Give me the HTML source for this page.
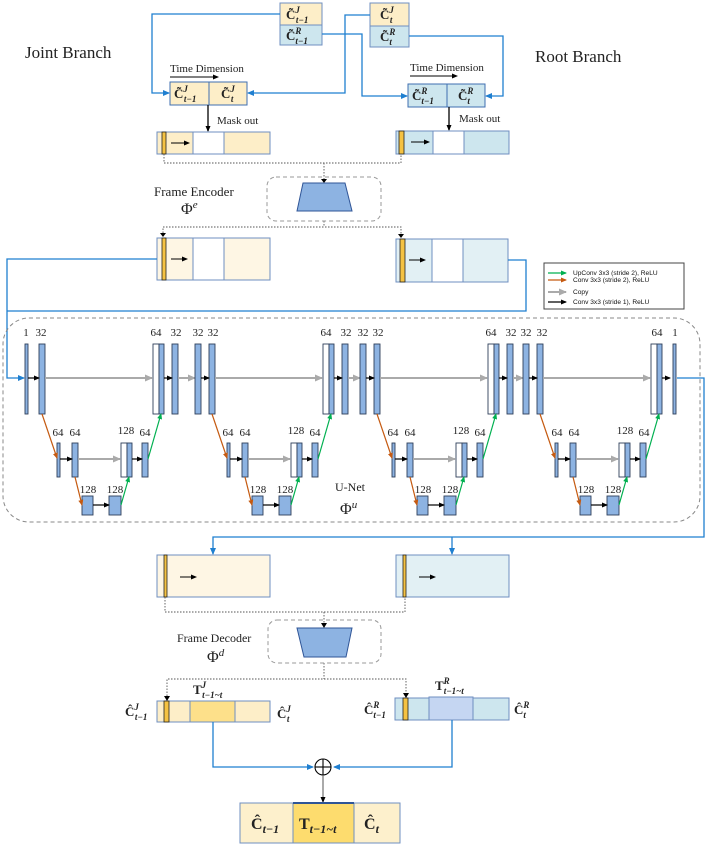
<!DOCTYPE html>
<html><head><meta charset="utf-8"><style>
html,body{margin:0;padding:0;background:#fff;}
svg{display:block;}
text{font-family:"Liberation Serif",serif;fill:#222;}
.m{font-family:"Liberation Serif",serif;font-weight:bold;}
.s{font-family:"Liberation Sans",sans-serif;font-size:6.6px;fill:#111;}
</style></head><body>
<svg id="sv" width="706" height="845" viewBox="0 0 706 845" xmlns="http://www.w3.org/2000/svg">
<defs>
<marker id="ak" markerWidth="6" markerHeight="6" refX="5" refY="3" orient="auto" markerUnits="userSpaceOnUse"><path d="M0,0.5 L6,3 L0,5.5z" fill="#000"/></marker>
<marker id="ab" markerWidth="7" markerHeight="7" refX="6" refY="3.5" orient="auto" markerUnits="userSpaceOnUse"><path d="M0,0.5 L7,3.5 L0,6.5z" fill="#1f7fd0"/></marker>
<marker id="ag" markerWidth="8" markerHeight="8" refX="7" refY="4" orient="auto" markerUnits="userSpaceOnUse"><path d="M0,0.5 L8,4 L0,7.5z" fill="#aaa"/></marker>
<marker id="ao" markerWidth="6" markerHeight="6" refX="5" refY="3" orient="auto" markerUnits="userSpaceOnUse"><path d="M0,0.5 L6,3 L0,5.5z" fill="#c55a11"/></marker>
<marker id="agr" markerWidth="6" markerHeight="6" refX="5" refY="3" orient="auto" markerUnits="userSpaceOnUse"><path d="M0,0.5 L6,3 L0,5.5z" fill="#00b050"/></marker>
</defs>

<!-- titles -->
<text x="25" y="58" font-size="17">Joint Branch</text>
<text x="535" y="62" font-size="17">Root Branch</text>

<!-- top input boxes -->
<rect x="280" y="3" width="42" height="22" fill="#fdeec8" stroke="#6f8fc0"/>
<rect x="280" y="25" width="42" height="20" fill="#cde6ee" stroke="#6f8fc0"/>
<rect x="370" y="3" width="39" height="23" fill="#fdeec8" stroke="#6f8fc0"/>
<rect x="370" y="26" width="39" height="21" fill="#cde6ee" stroke="#6f8fc0"/>
<text x="286" y="19" font-size="13" class="m">C̃<tspan font-size="9" font-style="italic" dy="-6">J</tspan><tspan font-size="9" font-style="italic" dx="-4" dy="10">t−1</tspan></text>
<text x="286" y="40" font-size="13" class="m">C̃<tspan font-size="9" font-style="italic" dy="-6">R</tspan><tspan font-size="9" font-style="italic" dx="-6" dy="10">t−1</tspan></text>
<text x="380" y="19" font-size="13" class="m">C̃<tspan font-size="9" font-style="italic" dy="-6">J</tspan><tspan font-size="9" font-style="italic" dx="-4" dy="10">t</tspan></text>
<text x="380" y="41" font-size="13" class="m">C̃<tspan font-size="9" font-style="italic" dy="-6">R</tspan><tspan font-size="9" font-style="italic" dx="-6" dy="10">t</tspan></text>

<g fill="none" stroke="#1f7fd0" stroke-width="1.3">
<polyline points="280,14 152,14 152,93 169,93" marker-end="url(#ab)"/>
<polyline points="370,15 345,15 345,93 248,93" marker-end="url(#ab)"/>
<polyline points="322,34 362,34 362,96 407,96" marker-end="url(#ab)"/>
<polyline points="409,36 503,36 503,96 486,96" marker-end="url(#ab)"/>
</g>

<!-- time dimension -->
<text x="170" y="72" font-size="11">Time  Dimension</text>
<line x1="170" y1="77" x2="218" y2="77" stroke="#000" marker-end="url(#ak)"/>
<text x="410" y="71" font-size="11">Time  Dimension</text>
<line x1="410" y1="76" x2="457" y2="76" stroke="#000" marker-end="url(#ak)"/>

<rect x="170" y="82" width="39" height="23" fill="#fdeec8" stroke="#3f6fb0"/>
<rect x="209" y="82" width="38" height="23" fill="#fdeec8" stroke="#3f6fb0"/>
<rect x="408" y="84" width="39" height="23" fill="#cde6ee" stroke="#3f6fb0"/>
<rect x="447" y="84" width="38" height="23" fill="#cde6ee" stroke="#3f6fb0"/>
<text x="174" y="98" font-size="13" class="m">C̃<tspan font-size="9" font-style="italic" dy="-6">J</tspan><tspan font-size="9" font-style="italic" dx="-4" dy="10">t−1</tspan></text>
<text x="221" y="98" font-size="13" class="m">C̃<tspan font-size="9" font-style="italic" dy="-6">J</tspan><tspan font-size="9" font-style="italic" dx="-4" dy="10">t</tspan></text>
<text x="412" y="100" font-size="13" class="m">C̃<tspan font-size="9" font-style="italic" dy="-6">R</tspan><tspan font-size="9" font-style="italic" dx="-6" dy="10">t−1</tspan></text>
<text x="458" y="100" font-size="13" class="m">C̃<tspan font-size="9" font-style="italic" dy="-6">R</tspan><tspan font-size="9" font-style="italic" dx="-6" dy="10">t</tspan></text>

<line x1="208" y1="105" x2="208" y2="131" stroke="#000" stroke-width="1.3" marker-end="url(#ak)"/>
<text x="217" y="124" font-size="11">Mask out</text>
<line x1="449" y1="107" x2="449" y2="130" stroke="#000" stroke-width="1.3" marker-end="url(#ak)"/>
<text x="459" y="122" font-size="11">Mask out</text>

<!-- masked boxes -->
<rect x="157" y="132" width="113" height="22" fill="#fdeec8" stroke="#6f8fc0"/>
<rect x="193" y="132" width="31" height="22" fill="#fff" stroke="#6f8fc0"/>
<rect x="162" y="132" width="4" height="22" fill="#f5c242" stroke="#222" stroke-width="0.8"/>
<line x1="171" y1="143" x2="189" y2="143" stroke="#000" marker-end="url(#ak)"/>
<rect x="396" y="131" width="113" height="23" fill="#cde6ee" stroke="#6f8fc0"/>
<rect x="433" y="131" width="31" height="23" fill="#fff" stroke="#6f8fc0"/>
<rect x="399" y="131" width="5" height="23" fill="#f5c242" stroke="#222" stroke-width="0.8"/>
<line x1="411" y1="142" x2="429" y2="142" stroke="#000" marker-end="url(#ak)"/>

<!-- encoder -->
<g fill="none" stroke="#555" stroke-dasharray="1.5,1.5" stroke-width="0.9">
<polyline points="164,154 164,163 401,163 401,154"/>
<line x1="324" y1="163" x2="324" y2="182"/>
<polyline points="324,221 324,227"/>
<polyline points="163,236 163,227 401,227 401,237"/>
</g>
<path d="M321,179 L327,179 L324,183z" fill="#000"/>
<path d="M160,233 L166,233 L163,237z" fill="#000"/>
<path d="M398,234 L404,234 L401,238z" fill="#000"/>
<rect x="267" y="177" width="114" height="44" rx="9" fill="none" stroke="#999" stroke-dasharray="4,3"/>
<path d="M303,183 L345,183 L352,211 L297,211z" fill="#8db3e2" stroke="#2f5597"/>
<text x="154" y="196" font-size="13">Frame Encoder</text>
<text x="181" y="214" font-size="16">Φ<tspan font-size="11" font-style="italic" dy="-6">e</tspan></text>

<!-- encoded boxes -->
<rect x="157" y="238" width="113" height="42" fill="#fef6e4" stroke="#6f8fc0"/>
<rect x="193" y="238" width="31" height="42" fill="#fff" stroke="#6f8fc0"/>
<rect x="162" y="238" width="4" height="42" fill="#f5c242" stroke="#222" stroke-width="0.8"/>
<line x1="171" y1="259" x2="187" y2="259" stroke="#000" marker-end="url(#ak)"/>
<rect x="396" y="239" width="112" height="43" fill="#e2f0f4" stroke="#6f8fc0"/>
<rect x="432" y="239" width="31" height="43" fill="#fff" stroke="#6f8fc0"/>
<rect x="400" y="239" width="5" height="43" fill="#f5c242" stroke="#222" stroke-width="0.8"/>
<line x1="409" y1="260" x2="425" y2="260" stroke="#000" marker-end="url(#ak)"/>

<g fill="none" stroke="#1f7fd0" stroke-width="1.3">
<polyline points="157,259 7,259 7,378 24,378" marker-end="url(#ab)"/>
<polyline points="508,260 526,260 526,311 7,311"/>
</g>

<!-- legend -->
<rect x="544" y="263" width="140" height="46" fill="#fff" stroke="#444"/>
<line x1="548" y1="273" x2="566" y2="273" stroke="#00b050" stroke-width="1.2" marker-end="url(#agr)"/>
<line x1="548" y1="280" x2="566" y2="280" stroke="#c55a11" stroke-width="1.2" marker-end="url(#ao)"/>
<line x1="548" y1="292" x2="566" y2="292" stroke="#aaa" stroke-width="2" marker-end="url(#ag)"/>
<line x1="548" y1="302" x2="566" y2="302" stroke="#000" stroke-width="1.2" marker-end="url(#ak)"/>
<text x="573" y="275" class="s">UpConv 3x3 (stride 2), ReLU</text>
<text x="573" y="282" class="s">Conv 3x3 (stride 2), ReLU</text>
<text x="573" y="294" class="s">Copy</text>
<text x="573" y="304" class="s">Conv 3x3 (stride 1), ReLU</text>

<!-- UNet box -->
<rect x="3" y="318" width="697" height="204" rx="26" fill="none" stroke="#888" stroke-dasharray="4,3"/>
<g id="unet"></g>

<!-- unet labels -->
<g font-size="11" text-anchor="middle">
<text x="26" y="336">1</text><text x="41" y="336">32</text><text x="156" y="336">64</text><text x="176" y="336">32</text>
<text x="198" y="336">32</text><text x="213" y="336">32</text><text x="326" y="336">64</text><text x="346" y="336">32</text>
<text x="363" y="336">32</text><text x="378" y="336">32</text><text x="491" y="336">64</text><text x="511" y="336">32</text>
<text x="526" y="336">32</text><text x="542" y="336">32</text><text x="657" y="336">64</text><text x="675" y="336">1</text>
<text x="58" y="436">64</text><text x="75" y="436">64</text><text x="126" y="434">128</text><text x="145" y="436">64</text>
<text x="228" y="436">64</text><text x="245" y="436">64</text><text x="296" y="434">128</text><text x="315" y="436">64</text>
<text x="393" y="436">64</text><text x="410" y="436">64</text><text x="461" y="434">128</text><text x="480" y="436">64</text>
<text x="557" y="436">64</text><text x="574" y="436">64</text><text x="625" y="434">128</text><text x="644" y="436">64</text>
<text x="88" y="493">128</text><text x="115" y="493">128</text>
<text x="258" y="493">128</text><text x="285" y="493">128</text>
<text x="423" y="493">128</text><text x="450" y="493">128</text>
<text x="586" y="493">128</text><text x="613" y="493">128</text>
</g>
<text x="335" y="491" font-size="12">U-Net</text>
<text x="340" y="514" font-size="16">Φ<tspan font-size="11" font-style="italic" dy="-6">u</tspan></text>

<!-- output path -->
<g fill="none" stroke="#1f7fd0" stroke-width="1.3">
<polyline points="677,378 704,378 704,537 213,537 213,554" marker-end="url(#ab)"/>
<line x1="452" y1="537" x2="452" y2="554" marker-end="url(#ab)"/>
</g>

<!-- decoder input boxes -->
<rect x="157" y="555" width="113" height="42" fill="#fef6e4" stroke="#6f8fc0"/>
<rect x="164" y="555" width="3" height="42" fill="#f5c242" stroke="#222" stroke-width="0.8"/>
<line x1="180" y1="577" x2="196" y2="577" stroke="#000" marker-end="url(#ak)"/>
<rect x="396" y="555" width="113" height="42" fill="#e2f0f4" stroke="#6f8fc0"/>
<rect x="403" y="555" width="3" height="42" fill="#f5c242" stroke="#222" stroke-width="0.8"/>
<line x1="419" y1="577" x2="435" y2="577" stroke="#000" marker-end="url(#ak)"/>

<g fill="none" stroke="#555" stroke-dasharray="1.5,1.5" stroke-width="0.9">
<polyline points="165,597 165,612 405,612 405,597"/>
<line x1="324" y1="612" x2="324" y2="626"/>
<line x1="324" y1="663" x2="324" y2="679"/>
<polyline points="167,696 167,679 406,679 406,694"/>
</g>
<path d="M321,623 L327,623 L324,628z" fill="#000"/>
<path d="M164,696 L170,696 L167,701z" fill="#000"/>
<path d="M403,693 L409,693 L406,698z" fill="#000"/>
<rect x="268" y="620" width="113" height="43" rx="9" fill="none" stroke="#999" stroke-dasharray="4,3"/>
<path d="M297,628 L352,628 L346,657 L304,657z" fill="#8db3e2" stroke="#2f5597"/>
<text x="177" y="642" font-size="12">Frame Decoder</text>
<text x="207" y="662" font-size="16">Φ<tspan font-size="11" font-style="italic" dy="-6">d</tspan></text>

<!-- decoded boxes -->
<rect x="157" y="701" width="113" height="21" fill="#fdeec8" stroke="#6f8fc0"/>
<rect x="190" y="701" width="45" height="21" fill="#fde08a" stroke="#6f8fc0"/>
<rect x="164" y="701" width="5" height="21" fill="#f5c242" stroke="#222" stroke-width="0.8"/>
<rect x="395" y="698" width="114" height="22" fill="#cde6ee" stroke="#6f8fc0"/>
<rect x="429" y="697" width="44" height="23" fill="#c5d6f2" stroke="#6f8fc0"/>
<rect x="403" y="698" width="5" height="22" fill="#f5c242" stroke="#222" stroke-width="0.8"/>

<text x="125" y="716" font-size="13" class="m">Ĉ<tspan font-size="9" font-style="italic" dy="-6">J</tspan><tspan font-size="9" font-style="italic" dx="-4" dy="10">t−1</tspan></text>
<text x="277" y="718" font-size="13" class="m">Ĉ<tspan font-size="9" font-style="italic" dy="-6">J</tspan><tspan font-size="9" font-style="italic" dx="-4" dy="10">t</tspan></text>
<text x="193" y="694" font-size="13" class="m">T<tspan font-size="9" font-style="italic" dy="-6">J</tspan><tspan font-size="9" font-style="italic" dx="-4" dy="10">t−1~t</tspan></text>
<text x="364" y="714" font-size="13" class="m">Ĉ<tspan font-size="9" font-style="italic" dy="-6">R</tspan><tspan font-size="9" font-style="italic" dx="-6" dy="10">t−1</tspan></text>
<text x="514" y="714" font-size="13" class="m">Ĉ<tspan font-size="9" font-style="italic" dy="-6">R</tspan><tspan font-size="9" font-style="italic" dx="-6" dy="10">t</tspan></text>
<text x="435" y="690" font-size="13" class="m">T<tspan font-size="9" font-style="italic" dy="-6">R</tspan><tspan font-size="9" font-style="italic" dx="-6" dy="10">t−1~t</tspan></text>

<g fill="none" stroke="#1f7fd0" stroke-width="1.3">
<polyline points="213,722 213,767 313,767" marker-end="url(#ab)"/>
<polyline points="452,720 452,767 334,767" marker-end="url(#ab)"/>
</g>
<circle cx="323" cy="767" r="8" fill="none" stroke="#000" stroke-width="1.1"/>
<line x1="315" y1="767" x2="331" y2="767" stroke="#000" stroke-width="1.1"/>
<line x1="323" y1="759" x2="323" y2="775" stroke="#000" stroke-width="1.1"/>
<line x1="323" y1="775" x2="323" y2="802" stroke="#555" marker-end="url(#ak)"/>

<rect x="240" y="803" width="160" height="40" fill="#fdf0cc" stroke="#6f8fc0"/>
<rect x="293" y="803" width="61" height="40" fill="#fddc6e" stroke="#6f8fc0"/>
<line x1="293" y1="803" x2="354" y2="803" stroke="#2f5597" stroke-width="2"/>
<text x="251" y="829" font-size="16" class="m">Ĉ<tspan font-size="12" font-style="italic" dy="4">t−1</tspan></text>
<text x="299" y="829" font-size="16" class="m">T<tspan font-size="12" font-style="italic" dy="4">t−1~t</tspan></text>
<text x="364" y="829" font-size="16" class="m">Ĉ<tspan font-size="12" font-style="italic" dy="4">t</tspan></text>
</svg>
<script>
(function(){
var g=document.getElementById('unet'),NS='http://www.w3.org/2000/svg';
function el(t,a){var e=document.createElementNS(NS,t);for(var k in a)e.setAttribute(k,a[k]);g.appendChild(e);return e;}
function bar(x,y,w,h,f){el('rect',{x:x,y:y,width:w,height:h,fill:f||'#8db3e2',stroke:'#2f3f5a','stroke-width':0.9});}
function ln(x1,y1,x2,y2,c,m,sw){el('line',{x1:x1,y1:y1,x2:x2,y2:y2,stroke:c,'stroke-width':sw||1.2,'marker-end':'url(#'+m+')'});}
var X=[25,195,360,523];
X.forEach(function(x,i){
 var w1=i==0?3:6;
 bar(x,344,w1,70);bar(x+14,344,6,70);
 bar(x+128,344,6,70,'#fff');bar(x+134,344,5,70);
 if(i<3){bar(x+147,344,6,70);} else {bar(x+150,344,3,70);}
 bar(x+32,443,3,34);bar(x+47,443,6,34);
 bar(x+96,443,6,34,'#fff');bar(x+102,443,5,34);bar(x+117,443,6,34);
 bar(x+57,496,11,19);bar(x+84,496,12,19);
 ln(x+w1,378,x+14,378,'#000','ak');
 ln(x+20,378,x+127,378,'#aaa','ag',2);
 ln(x+139,378,x+147,378,'#000','ak');
 if(i<3) ln(x+153,378,X[i+1],378,'#aaa','ag',2);
 ln(x+17,414,x+32,458,'#c55a11','ao');
 ln(x+35,459,x+47,459,'#000','ak');
 ln(x+53,459,x+95,459,'#aaa','ag',2);
 ln(x+107,459,x+117,459,'#000','ak');
 ln(x+123,459,x+136,414,'#00b050','agr');
 ln(x+50,477,x+57,505,'#c55a11','ao');
 ln(x+68,505,x+84,505,'#000','ak');
 ln(x+96,505,x+104,477,'#00b050','agr');
});
})();
</script>
</body></html>
